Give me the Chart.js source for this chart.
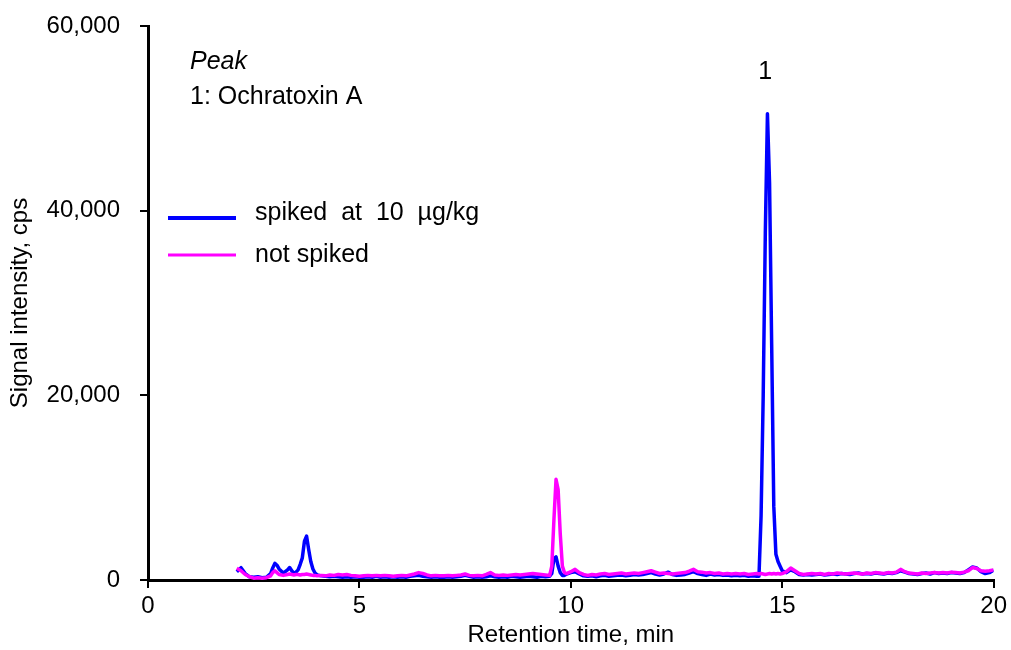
<!DOCTYPE html>
<html>
<head>
<meta charset="utf-8">
<title>Ochratoxin A chromatogram</title>
<script src="https://cdn.jsdelivr.net/npm/chart.js@4.4.1/dist/chart.umd.min.js"></script>
<style>
  html, body { margin: 0; padding: 0; background: #fff; }
  #chart { display: block; }
</style>
</head>
<body>
<canvas id="chart" width="1011" height="650"></canvas>
<script>
// Chromatogram - ochratoxin A, spiked vs not spiked sample
const retentionTime = [
    2.1, 2.2, 2.3, 2.4, 2.5, 2.6, 2.7, 2.8, 2.9, 2.95,
    3.0, 3.05, 3.1, 3.2, 3.3, 3.35, 3.4, 3.45, 3.5, 3.55,
    3.6, 3.65, 3.7, 3.75, 3.8, 3.85, 3.9, 3.95, 4.0, 4.1,
    4.2, 4.3, 4.4, 4.5, 4.6, 4.7, 4.8, 4.9, 5.0, 5.1,
    5.2, 5.3, 5.4, 5.5, 5.6, 5.7, 5.8, 5.9, 6.0, 6.1,
    6.2, 6.3, 6.4, 6.5, 6.6, 6.7, 6.8, 6.9, 7.0, 7.1,
    7.2, 7.3, 7.4, 7.5, 7.6, 7.7, 7.8, 7.9, 8.0, 8.1,
    8.2, 8.3, 8.4, 8.5, 8.6, 8.7, 8.8, 8.9, 9.0, 9.1,
    9.2, 9.3, 9.4, 9.5, 9.55, 9.6, 9.65, 9.7, 9.75, 9.8,
    9.85, 9.9, 10.0, 10.1, 10.2, 10.3, 10.4, 10.5, 10.6, 10.7,
    10.8, 10.9, 11.0, 11.1, 11.2, 11.3, 11.4, 11.5, 11.6, 11.7,
    11.8, 11.9, 12.0, 12.1, 12.2, 12.3, 12.4, 12.5, 12.6, 12.7,
    12.8, 12.9, 13.0, 13.1, 13.2, 13.3, 13.4, 13.5, 13.6, 13.7,
    13.8, 13.9, 14.0, 14.1, 14.2, 14.3, 14.4, 14.45, 14.5, 14.55,
    14.6, 14.65, 14.7, 14.75, 14.8, 14.85, 14.9, 14.95, 15.0, 15.1,
    15.2, 15.3, 15.4, 15.5, 15.6, 15.7, 15.8, 15.9, 16.0, 16.1,
    16.2, 16.3, 16.4, 16.5, 16.6, 16.7, 16.8, 16.9, 17.0, 17.1,
    17.2, 17.3, 17.4, 17.5, 17.6, 17.7, 17.8, 17.9, 18.0, 18.1,
    18.2, 18.3, 18.4, 18.5, 18.6, 18.7, 18.8, 18.9, 19.0, 19.1,
    19.2, 19.3, 19.4, 19.5, 19.6, 19.7, 19.8, 19.9, 20.0
];

// spiked at 10 µg/kg (blue)
const spikedSignal = [
    900, 1330, 700, 350, 300, 350, 250, 300, 700, 1300,
    1800, 1600, 1200, 750, 1100, 1350, 1000, 750, 850, 1100,
    1700, 2400, 4200, 4750, 3300, 2000, 1200, 750, 550, 450,
    400, 350, 400, 350, 300, 350, 300, 350, 300, 300,
    350, 300, 400, 300, 350, 300, 350, 300, 350, 300,
    400, 450, 500, 400, 350, 300, 350, 300, 300, 350,
    300, 350, 400, 500, 400, 300, 350, 300, 350, 450,
    350, 300, 350, 300, 400, 350, 300, 350, 400, 350,
    300, 400, 350, 400, 700, 2300, 2500, 1500, 800, 500,
    500, 650, 800, 900, 650, 450, 400, 450, 350, 450,
    500, 400, 450, 500, 550, 450, 500, 600, 550, 600,
    700, 800, 650, 550, 650, 850, 600, 500, 550, 600,
    750, 900, 700, 600, 500, 650, 550, 600, 500, 550,
    450, 500, 450, 500, 400, 450, 400, 400, 7000, 20000,
    37600, 50500, 43000, 25500, 8000, 2800, 2000, 1500, 1000, 800,
    1100, 900, 600, 550, 600, 550, 600, 650, 550, 600,
    650, 600, 700, 650, 600, 700, 750, 650, 700, 650,
    750, 700, 650, 750, 700, 800, 1000, 850, 700, 650,
    600, 700, 750, 650, 800, 700, 750, 700, 800, 750,
    700, 800, 1100, 1400, 1300, 900, 700, 800, 1050
];

// not spiked (magenta)
const blankSignal = [
    1270, 1000, 600, 350, 200, 250, 200, 250, 450, 800,
    1000, 800, 600, 500, 600, 650, 600, 550, 600, 600,
    550, 600, 600, 650, 600, 550, 500, 500, 450, 500,
    450, 550, 500, 600, 550, 600, 500, 450, 400, 450,
    500, 450, 500, 450, 500, 450, 400, 450, 500, 450,
    550, 650, 800, 700, 550, 450, 500, 450, 450, 500,
    450, 500, 550, 650, 500, 450, 500, 450, 600, 800,
    550, 500, 550, 500, 550, 600, 550, 600, 650, 700,
    650, 600, 550, 500, 1500, 6500, 10900, 9800, 5000, 1500,
    800, 700, 900, 1150, 800, 600, 500, 600, 550, 650,
    700, 600, 650, 700, 750, 650, 700, 750, 700, 800,
    900, 1000, 850, 700, 750, 700, 650, 700, 750, 800,
    950, 1150, 900, 850, 750, 800, 700, 750, 650, 700,
    650, 700, 650, 700, 600, 650, 700, 650, 700, 650,
    600, 650, 700, 650, 700, 650, 700, 650, 700, 900,
    1300, 1000, 700, 600, 650, 700, 650, 700, 600, 700,
    650, 750, 700, 650, 700, 750, 700, 650, 750, 700,
    800, 750, 700, 800, 750, 850, 1150, 900, 750, 700,
    650, 750, 700, 750, 800, 750, 800, 750, 850, 800,
    750, 850, 1000, 1350, 1250, 1000, 950, 1000, 1100
];

const xTickValues = [0, 5, 10, 15, 20];
const yTickValues = [0, 20000, 40000, 60000];
const peakLabel = { time: 14.6, signal: 55000, text: '1' };

const FONT = '"Liberation Sans", Arial, sans-serif';

// texte libre + legende dessines a la main
const overlayPlugin = {
    id: 'overlay',
    afterDraw(chart) {
        const ctx = chart.ctx;
        const xs = chart.scales.x;
        const ys = chart.scales.y;
        ctx.save();
        ctx.fillStyle = '#000';
        ctx.textBaseline = 'middle';
        ctx.textAlign = 'left';

        ctx.font = 'italic 25px ' + FONT;
        ctx.fillText('Peak', 190, 62);
        ctx.font = '25px ' + FONT;
        ctx.fillText('1: Ochratoxin A', 190, 97);

        ctx.textAlign = 'center';
        ctx.fillText(peakLabel.text, xs.getPixelForValue(peakLabel.time), ys.getPixelForValue(peakLabel.signal));

        // legende
        ctx.lineCap = 'butt';
        ctx.strokeStyle = '#0000ff';
        ctx.lineWidth = 4;
        ctx.beginPath();
        ctx.moveTo(168, 218);
        ctx.lineTo(236, 218);
        ctx.stroke();
        ctx.strokeStyle = '#ff00ff';
        ctx.lineWidth = 3;
        ctx.beginPath();
        ctx.moveTo(168, 255);
        ctx.lineTo(236, 255);
        ctx.stroke();

        ctx.textAlign = 'left';
        ctx.fillText('spiked  at  10  µg/kg', 255, 213);
        ctx.fillText('not spiked', 255, 255);
        ctx.restore();
    }
};

new Chart(document.getElementById('chart'), {
    type: 'line',
    data: {
        datasets: [{
            label: 'not spiked',
            data: retentionTime.map((t, i) => ({ x: t, y: blankSignal[i] })),
            borderColor: '#ff00ff',
            borderWidth: 3.5,
            borderJoinStyle: 'round',
            pointRadius: 0,
            tension: 0,
            order: 1
        }, {
            label: 'spiked at 10 µg/kg',
            data: retentionTime.map((t, i) => ({ x: t, y: spikedSignal[i] })),
            borderColor: '#0000ff',
            borderWidth: 3.5,
            borderJoinStyle: 'round',
            pointRadius: 0,
            tension: 0,
            order: 2
        }]
    },
    options: {
        responsive: false,
        animation: false,
        layout: {
            padding: { top: 26, right: 16, bottom: 0, left: 0 }
        },
        plugins: {
            legend: { display: false },
            tooltip: { enabled: false }
        },
        scales: {
            x: {
                type: 'linear',
                min: 0,
                max: 20,
                afterBuildTicks: (axis) => { axis.ticks = xTickValues.map(v => ({ value: v })); },
                afterFit: (axis) => { axis.height = 70; },
                border: { display: true, color: '#000', width: 3 },
                grid: { display: true, drawOnChartArea: false, drawTicks: true, tickLength: 8, color: '#000', lineWidth: 2 },
                ticks: {
                    color: '#000',
                    padding: 4,
                    maxRotation: 0,
                    font: { family: FONT, size: 24 }
                },
                title: {
                    display: true,
                    text: 'Retention time, min',
                    color: '#000',
                    padding: { top: 0, bottom: 0 },
                    font: { family: FONT, size: 24 }
                }
            },
            y: {
                min: 0,
                max: 60000,
                afterBuildTicks: (axis) => { axis.ticks = yTickValues.map(v => ({ value: v })); },
                afterFit: (axis) => {
                    axis.width = 148;
                    axis.paddingTop = 0;
                    axis.paddingBottom = 0;
                },
                border: { display: true, color: '#000', width: 3 },
                grid: { display: true, drawOnChartArea: false, drawTicks: true, tickLength: 8, color: '#000', lineWidth: 2 },
                ticks: {
                    color: '#000',
                    padding: 20,
                    font: { family: FONT, size: 24 },
                    callback: (v) => v.toLocaleString('en-US')
                },
                title: {
                    display: true,
                    text: 'Signal intensity, cps',
                    color: '#000',
                    padding: { top: 6, bottom: 0 },
                    font: { family: FONT, size: 24 }
                }
            }
        }
    },
    plugins: [overlayPlugin]
});
</script>
</body>
</html>
